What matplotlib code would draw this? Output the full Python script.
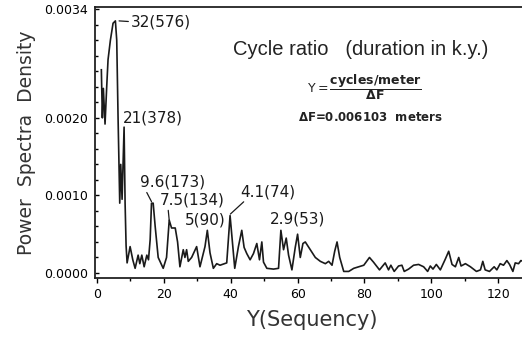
import matplotlib
matplotlib.use("Agg")
import matplotlib.pyplot as plt
from matplotlib.ticker import MultipleLocator, FixedLocator

plt.rcParams['font.family'] = 'DejaVu Sans'

# spectrum: Y (sequency) vs power spectral density
seq_y = [1.3, 1.6, 1.9, 2.4, 2.9, 3.3, 4.0, 4.8, 5.5, 5.9, 6.3, 6.8, 7.1, 7.5,
         8.1, 8.4, 8.7, 9.0, 9.9, 10.7, 11.4, 12.3, 12.8, 13.4, 14.1, 14.9,
         15.4, 15.9, 16.3, 16.8, 17.4, 18.3, 19.8, 20.8, 21.6, 22.3, 23.4,
         24.1, 24.8, 25.8, 26.3, 26.8, 27.3, 28.3, 29.8, 30.8, 32.3, 33.0,
         33.8, 34.8, 35.8, 36.8, 38.8, 39.8, 41.2, 42.3, 43.3, 44.0, 44.8,
         45.8, 46.8, 47.8, 48.6, 49.3, 49.8, 50.8, 52.8, 54.3, 55.0, 55.8,
         56.6, 57.3, 58.3, 59.3, 60.0, 60.8, 61.6, 62.3, 63.8, 65.3, 66.8,
         68.3, 69.3, 70.3, 71.1, 71.8, 72.6, 73.8, 75.3, 76.8, 78.3, 79.8,
         81.5, 82.7, 84.5, 86.2, 87.2, 87.9, 88.9, 90.2, 91.2, 91.9, 93.2,
         94.7, 96.2, 97.7, 98.9, 99.7, 100.5, 101.5, 102.7, 104.2, 105.2,
         106.2, 107.2, 108.2, 108.9, 110.2, 111.7, 113.5, 114.7, 115.4, 116.1,
         117.4, 118.8, 119.6, 120.6, 121.6, 122.6, 123.4, 124.4, 125.1, 126.1,
         126.8, 128.0]
psd = [0.00262, 0.00200, 0.00238, 0.00192, 0.00240, 0.00275, 0.00300, 0.00322,
       0.00325, 0.00300, 0.00200, 0.00090, 0.00140, 0.00095, 0.00188, 0.00090,
       0.00035, 0.00013, 0.00034, 0.00017, 0.00006, 0.00023, 0.00012, 0.00023,
       0.00008, 0.00023, 0.00017, 0.00043, 0.00090, 0.00090, 0.00060, 0.00020,
       0.00006, 0.00020, 0.00068, 0.00058, 0.00058, 0.00040, 0.00008, 0.00030,
       0.00020, 0.00030, 0.00015, 0.00020, 0.00034, 0.00008, 0.00034, 0.00055,
       0.00026, 0.00006, 0.00012, 0.00010, 0.00013, 0.00074, 0.00006, 0.00034,
       0.00055, 0.00033, 0.00025, 0.00017, 0.00025, 0.00038, 0.00017, 0.00040,
       0.00014, 0.00006, 0.00005, 0.00006, 0.00055, 0.00030, 0.00045, 0.00023,
       0.00004, 0.00033, 0.00050, 0.00020, 0.00038, 0.00040, 0.00030, 0.00020,
       0.00015, 0.00012, 0.00015, 0.00010, 0.00028, 0.00040, 0.00020, 0.00002,
       0.00002, 0.00006, 0.00008, 0.00010, 0.00020, 0.00014, 0.00004, 0.00013,
       0.00004, 0.00010, 0.00002, 0.00009, 0.00010, 0.00002, 0.00005, 0.00010,
       0.00011, 0.00008, 0.00002, 0.00009, 0.00005, 0.00011, 0.00004, 0.00018,
       0.00028, 0.00011, 0.00008, 0.00020, 0.00009, 0.00012, 0.00008, 0.00002,
       0.00004, 0.00015, 0.00004, 0.00002, 0.00008, 0.00004, 0.00012, 0.00010,
       0.00016, 0.00011, 0.00002, 0.00013, 0.00012, 0.00016, 0.00014]

# labelled peaks: text, peak (x, y), text position, leader start on text
peak_labels = ["32(576)", "21(378)", "9.6(173)", "7.5(134)", "5(90)", "4.1(74)", "2.9(53)"]
peak_xy = [(6.6, 0.00325), None, (16.3, 0.00092), (21.6, 0.00068), None, (39.9, 0.00076), None]
label_xy = [(10.2, 0.00324), (7.6, 0.00200), (12.9, 0.00117), (18.9, 0.00094),
            (26.3, 0.00068), (42.8, 0.00105), (51.8, 0.00070)]
leader_rel = [(0.0, 0.5), None, (0.08, 0.0), (0.12, 0.0), None, (0.12, 0.0), None]

yticks = [0.0, 0.0010, 0.0020, 0.0034]
ytick_labels = ["0.0000", "0.0010", "0.0020", "0.0034"]

fig = plt.figure(figsize=(5.22, 3.39), dpi=100)
ax = fig.add_axes([0.182, 0.18, 0.83, 0.80])

ax.plot(seq_y, psd, color='#1a1a1a', lw=1.2)

ax.set_xlim(-0.6, 129)
ax.set_ylim(-0.0000645, 0.003432)

ax.xaxis.set_major_locator(MultipleLocator(20))
ax.xaxis.set_minor_locator(MultipleLocator(10))
ax.yaxis.set_major_locator(FixedLocator(yticks))
ax.set_yticklabels(ytick_labels)
ax.yaxis.set_minor_locator(MultipleLocator(0.0002))
ax.tick_params(axis='x', which='major', direction='out', length=3.5, width=1, pad=4, labelsize=9)
ax.tick_params(axis='x', which='minor', direction='out', length=2.5, width=1)
ax.tick_params(axis='y', which='major', direction='in', length=3, width=1, pad=5, labelsize=9)
ax.tick_params(axis='y', which='minor', direction='in', length=2, width=1)

for side in ['left', 'bottom', 'top']:
    ax.spines[side].set_linewidth(1.3)
    ax.spines[side].set_color('#222222')
ax.spines['right'].set_visible(False)

ax.set_xlabel("Y(Sequency)", fontsize=15, labelpad=6, color='#333333')
ax.set_ylabel("Power  Spectra  Density", fontsize=13.5, labelpad=6, color='#333333')

for i, txt in enumerate(peak_labels):
    if peak_xy[i] is None:
        ax.text(label_xy[i][0], label_xy[i][1], txt, fontsize=11,
                ha='left', va='center', color='#1a1a1a')
    else:
        ax.annotate(txt, xy=peak_xy[i], xytext=label_xy[i], fontsize=11,
                    ha='left', va='center', color='#1a1a1a',
                    arrowprops=dict(arrowstyle='-', lw=0.9, color='#1a1a1a',
                                    relpos=leader_rel[i], shrinkA=0, shrinkB=0))

ax.text(40.7, 0.00288, "Cycle ratio   (duration in k.y.)", family='Liberation Sans',
        fontsize=14.5, ha='left', va='center', color='#222222')
ax.text(62.9, 0.00240, r'$\mathregular{Y=}\dfrac{\mathbf{cycles/meter}}{\mathbf{\Delta F}}$',
        fontsize=9, ha='left', va='center', color='#222222')
ax.text(60.2, 0.00201, r'$\mathbf{\Delta}$F=0.006103  meters', fontsize=8.5,
        fontweight='bold', ha='left', va='center', color='#222222')

fig.savefig("out.png", dpi=100)
